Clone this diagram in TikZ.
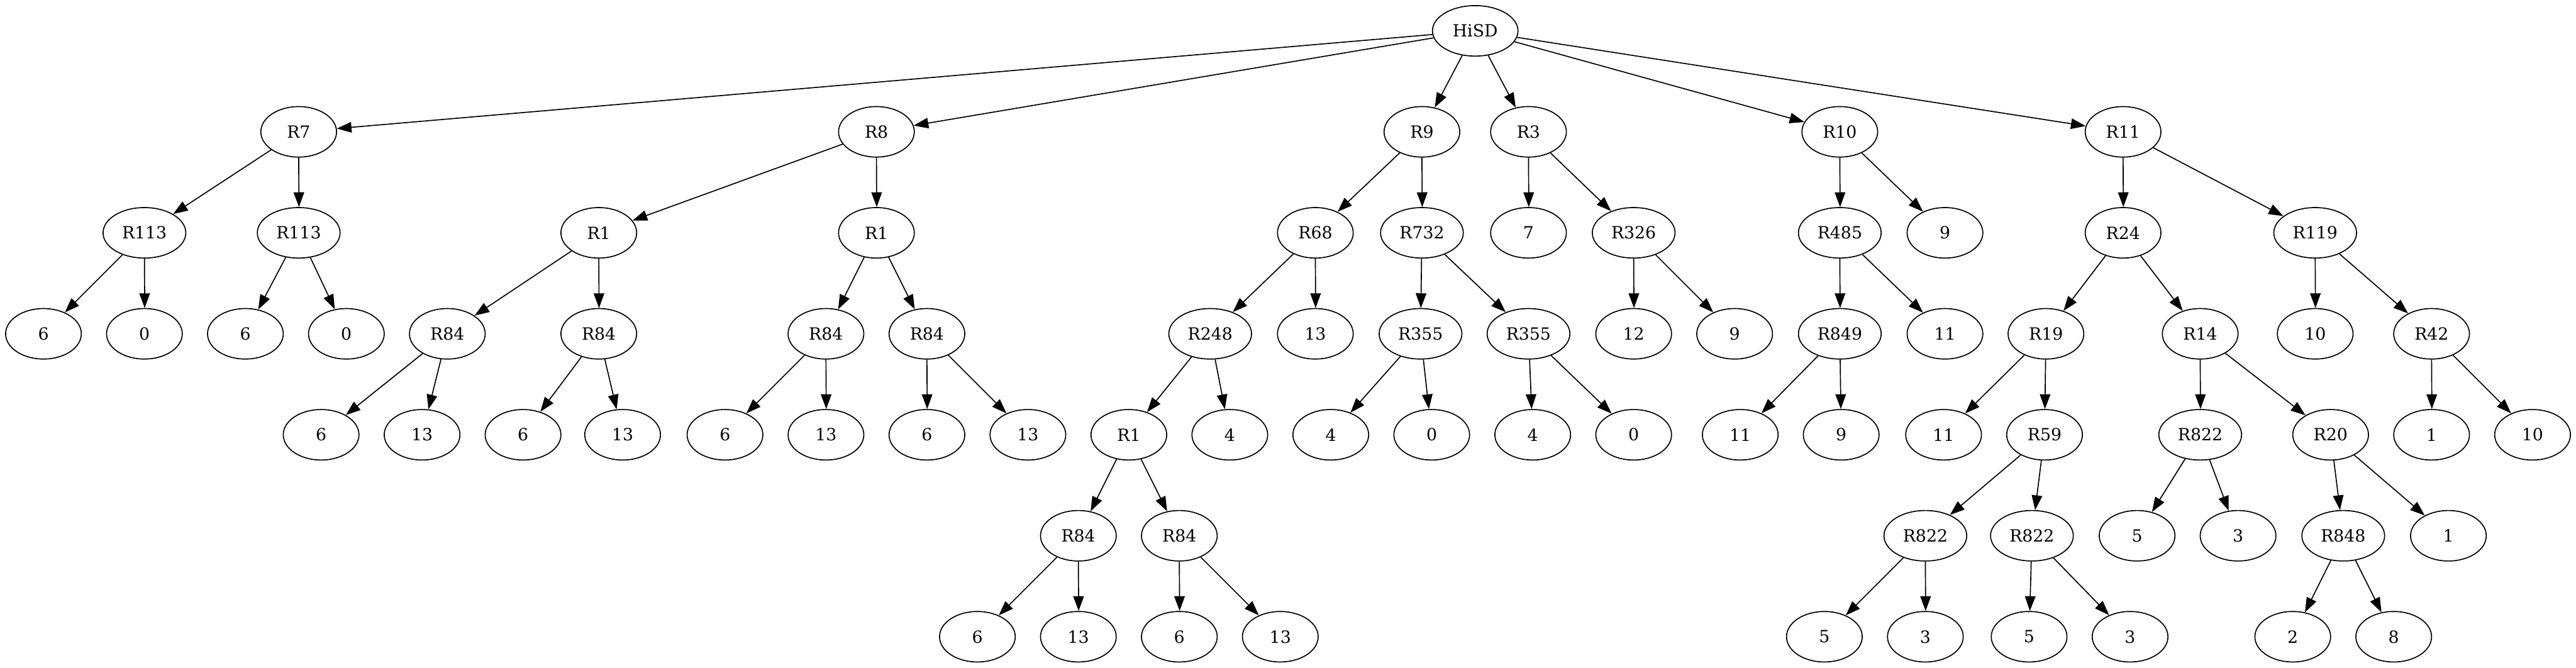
\documentclass[tikz,border=0pt]{standalone}
\usepackage{fontspec}
\setmainfont{DejaVu Serif}
\usepackage{tikz}
\usetikzlibrary{shapes.geometric,arrows.meta}

\begin{document}
\begin{tikzpicture}[x=1pt,y=-1pt,
  nd/.style={ellipse,draw,line width=0.75pt,inner sep=0pt,minimum width=54pt,minimum height=36pt,font=\fontsize{12}{14}\selectfont},
  wide/.style={nd,minimum width=59pt},
  arr/.style={-{Triangle[length=10.5pt,width=7.5pt]},line width=0.75pt,black}]
              \useasboundingbox (0,0) rectangle (1837,476);
              \node[wide,minimum width=61pt](hisd)at(1052,22){HiSD};
              \node[nd](r7)at(213,94){R7};
              \node[nd](r8)at(625,94){R8};
              \node[nd](r9)at(1014,94){R9};
              \node[nd](r3)at(1090,94){R3};
              \node[nd](r10)at(1312,94){R10};
              \node[nd](r11)at(1514,94){R11};
              \node[wide](r113a)at(103,166){R113};
              \node[wide](r113b)at(213,166){R113};
              \node[nd](r1a)at(427,166){R1};
              \node[nd](r1b)at(625,166){R1};
              \node[nd](r68)at(938,166){R68};
              \node[wide](r732)at(1014,166){R732};
              \node[nd](n7)at(1090,166){7};
              \node[wide](r326)at(1165,166){R326};
              \node[wide](r485)at(1312,166){R485};
              \node[nd](n9a)at(1387,166){9};
              \node[nd](r24)at(1514,166){R24};
              \node[wide](r119)at(1651,166){R119};
              \node[nd](n6a)at(31,238){6};
              \node[nd](n0a)at(103,238){0};
              \node[nd](n6b)at(175,238){6};
              \node[nd](n0b)at(247,238){0};
              \node[nd](r84a)at(319,238){R84};
              \node[nd](r84b)at(427,238){R84};
              \node[nd](r84c)at(589,238){R84};
              \node[nd](r84d)at(661,238){R84};
              \node[wide](r248)at(863,238){R248};
              \node[nd](n13a)at(938,238){13};
              \node[wide](r355a)at(1013,238){R355};
              \node[wide](r355b)at(1090,238){R355};
              \node[nd](n12)at(1165,238){12};
              \node[nd](n9b)at(1237,238){9};
              \node[wide](r849)at(1312,238){R849};
              \node[nd](n11a)at(1387,238){11};
              \node[nd](r19)at(1459,238){R19};
              \node[nd](r14)at(1569,238){R14};
              \node[nd](n10a)at(1651,238){10};
              \node[nd](r42)at(1734,238){R42};
              \node[nd](n6c)at(229,310){6};
              \node[nd](n13c)at(301,310){13};
              \node[nd](n6d)at(373,310){6};
              \node[nd](n13d)at(444,310){13};
              \node[nd](n6e)at(517,310){6};
              \node[nd](n13e)at(589,310){13};
              \node[nd](n6f)at(661,310){6};
              \node[nd](n13f)at(733,310){13};
              \node[nd](r1c)at(805,310){R1};
              \node[nd](n4a)at(877,310){4};
              \node[nd](n4b)at(949,310){4};
              \node[nd](n0c)at(1021,310){0};
              \node[nd](n4c)at(1093,310){4};
              \node[nd](n0d)at(1165,310){0};
              \node[nd](n11b)at(1241,310){11};
              \node[nd](n9c)at(1313,310){9};
              \node[nd](n11c)at(1386,310){11};
              \node[nd](r59)at(1458,310){R59};
              \node[wide](r822a)at(1569,310){R822};
              \node[nd](r20)at(1662,310){R20};
              \node[nd](n1a)at(1734,310){1};
              \node[nd](n10b)at(1806,310){10};
              \node[nd](r84e)at(769,382){R84};
              \node[nd](r84f)at(841,382){R84};
              \node[wide](r822b)at(1373,382){R822};
              \node[wide](r822c)at(1449,382){R822};
              \node[nd](n5a)at(1524,382){5};
              \node[nd](n3a)at(1596,382){3};
              \node[wide](r848)at(1671,382){R848};
              \node[nd](n1b)at(1746,382){1};
              \node[nd](n6g)at(697,454){6};
              \node[nd](n13g)at(769,454){13};
              \node[nd](n6h)at(841,454){6};
              \node[nd](n13h)at(913,454){13};
              \node[nd](n5b)at(1301,454){5};
              \node[nd](n3b)at(1373,454){3};
              \node[nd](n5c)at(1447,454){5};
              \node[nd](n3c)at(1519,454){3};
              \node[nd](n2)at(1635,454){2};
              \node[nd](n8)at(1707,454){8};
              \foreach \a/\b in {hisd/r7,hisd/r8,hisd/r9,hisd/r3,hisd/r10,hisd/r11,
                r7/r113a,r8/r1a,r9/r68,r3/r326,r10/n9a,r11/r119,
                r113a/n6a,r113b/n6b,r113b/n0b,r1a/r84a,
                r1b/r84c,r1b/r84d,r68/r248,r732/r355a,r732/r355b,
                r326/n9b,r485/n11a,r24/r19,r24/r14,r119/r42,
                r84a/n6c,r84a/n13c,r84b/n6d,r84b/n13d,r84c/n6e,
                r84d/n13f,r248/r1c,r248/n4a,r355a/n4b,r355a/n0c,
                r355b/n4c,r355b/n0d,r849/n11b,r849/n9c,r19/n11c,r19/r59,
                r14/r20,r42/n10b,
                r1c/r84e,r1c/r84f,r59/r822b,r59/r822c,r822a/n5a,r822a/n3a,
                r20/r848,r20/n1b,
                r84e/n6g,r84f/n13h,r822b/n5b,
                r822c/n5c,r822c/n3c,r848/n2,r848/n8}
                \draw[arr](\a)--(\b);
              \foreach \a/\b in {r7/r113b,r8/r1b,r9/r732,r3/n7,r10/r485,r11/r24,
                r113a/n0a,r1a/r84b,r68/n13a,r326/n12,r485/r849,r119/n10a,
                r84c/n13e,r84d/n6f,r14/r822a,r42/n1a,r84e/n13g,r84f/n6h,r822b/n3b}
                \draw[arr](\a.south)--([xshift=0.2pt]\b.north);
            \end{tikzpicture}
\end{document}
